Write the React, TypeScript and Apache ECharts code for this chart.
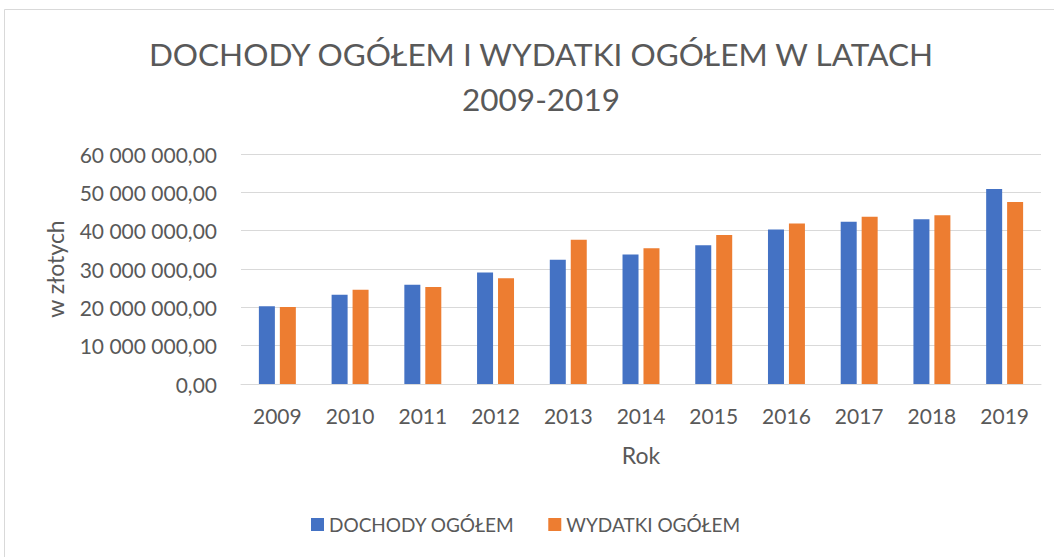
import React, { useEffect, useRef } from "react";
import * as echarts from "echarts";

const years = ["2009", "2010", "2011", "2012", "2013", "2014", "2015", "2016", "2017", "2018", "2019"];
const dochody = [20300000, 23300000, 25900000, 29100000, 32400000, 33800000, 36200000, 40300000, 42300000, 43000000, 50900000];
const wydatki = [20100000, 24600000, 25300000, 27600000, 37600000, 35400000, 38900000, 41900000, 43600000, 44000000, 47500000];
const titleText = "DOCHODY OGÓŁEM I WYDATKI OGÓŁEM W LATACH\n2009-2019";
const seriesNames = ["DOCHODY OGÓŁEM", "WYDATKI OGÓŁEM"];

const FONT = "Lato";
const GREY = "#595959";

function fmt(v: number): string {
  const s = Math.round(v).toString().replace(/\B(?=(\d{3})+(?!\d))/g, " ");
  return s + ",00";
}

export default function App() {
  const ref = useRef<HTMLDivElement>(null);
  useEffect(() => {
    const chart = echarts.init(ref.current!, null, { renderer: "svg" });
    chart.setOption({
      animation: false,
      textStyle: { fontFamily: FONT },
      graphic: [
        {
          type: "rect",
          shape: { x: 4.5, y: 9.5, width: 1060, height: 560 },
          style: { fill: "none", stroke: "#d9d9d9", lineWidth: 1 },
          silent: true,
        },
      ],
      title: {
        text: titleText,
        left: 536,
        top: 26,
        textAlign: "center",
        textStyle: { fontFamily: FONT, fontSize: 31.5, fontWeight: "normal", color: GREY, lineHeight: 45 },
      },
      legend: {
        left: 311,
        top: 515,
        padding: 0,
        itemWidth: 13,
        itemHeight: 13,
        itemGap: 34,
        icon: "rect",
        textStyle: { fontFamily: FONT, fontSize: 19, color: GREY },
        data: seriesNames,
      },
      grid: { left: 241, right: 13, top: 154, bottom: 173 },
      xAxis: {
        type: "category",
        data: years,
        name: "Rok",
        nameLocation: "middle",
        nameGap: 59,
        nameTextStyle: { fontFamily: FONT, fontSize: 23, color: GREY },
        axisLine: { lineStyle: { color: "#d9d9d9", width: 1 } },
        axisTick: { show: false },
        axisLabel: { fontFamily: FONT, fontSize: 21, color: GREY, margin: 21 },
      },
      yAxis: {
        type: "value",
        min: 0,
        max: 60000000,
        interval: 10000000,
        name: "w złotych",
        nameLocation: "middle",
        nameRotate: 90,
        nameGap: 175,
        nameTextStyle: { fontFamily: FONT, fontSize: 23, color: GREY },
        axisLine: { show: false },
        axisTick: { show: false },
        splitLine: { lineStyle: { color: "#d9d9d9", width: 1 } },
        axisLabel: { fontFamily: FONT, fontSize: 21, color: GREY, margin: 24, formatter: (v: number) => fmt(v) },
      },
      series: [
        {
          name: seriesNames[0],
          type: "bar",
          data: dochody,
          barWidth: 16,
          barGap: "31%",
          itemStyle: { color: "#4472C4" },
        },
        {
          name: seriesNames[1],
          type: "bar",
          data: wydatki,
          barWidth: 16,
          itemStyle: { color: "#ED7D31" },
        },
      ],
    });
    return () => chart.dispose();
  }, []);
  return (
    <div
      ref={ref}
      style={{ position: "absolute", left: 0, top: 0, width: 1054, height: 557, background: "#fff" }}
    />
  );
}
